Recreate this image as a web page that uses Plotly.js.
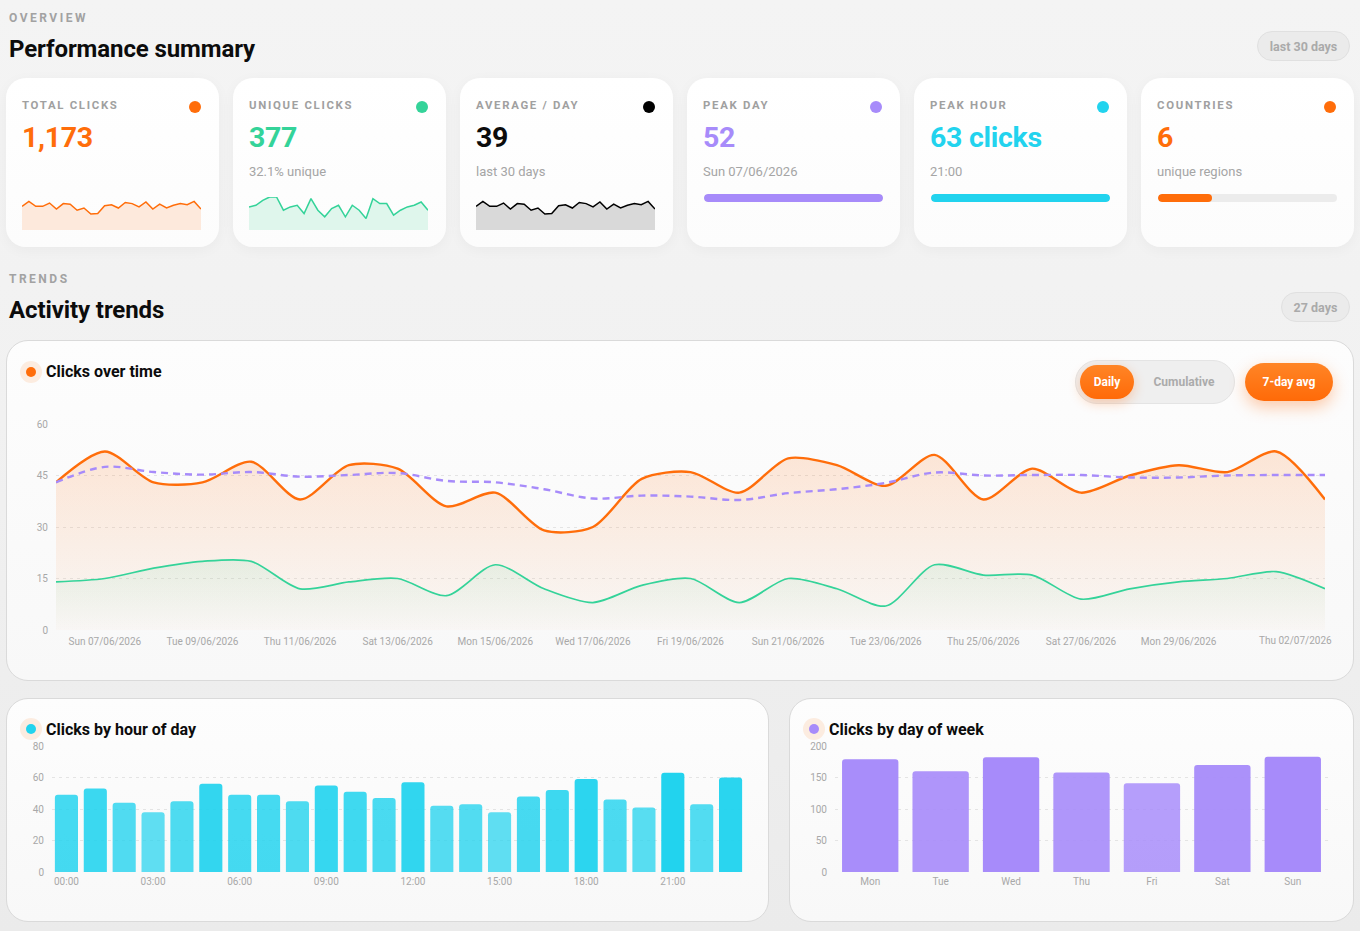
<!DOCTYPE html>
<html>
<head>
<meta charset="utf-8">
<script src="https://cdn.plot.ly/plotly-3.0.1.min.js"></script>
<style>
  html, body { margin: 0; padding: 0; }
  body {
    width: 1360px; height: 931px; overflow: hidden; position: relative;
    background: linear-gradient(180deg, #f4f4f4 0%, #f1f1f1 45%, #ebebeb 100%);
    font-family: Roboto, "Noto Sans", sans-serif;
  }
  .abs { position: absolute; }
  .eyebrow { font-size: 12px; font-weight: 700; letter-spacing: 2.5px; color: #a2a2a2; line-height: 1; }
  .h1 { font-size: 24px; font-weight: 700; color: #0c0c0c; line-height: 1; letter-spacing: -0.1px; }
  .pill {
    border-radius: 16px; background: #ebebeb; border: 1px solid #e0e0e0; color: #aaaaaa;
    font-size: 12.5px; font-weight: 700; display: flex; align-items: center; justify-content: center;
    box-sizing: border-box;
  }
  .card {
    background: linear-gradient(180deg, #ffffff 0%, #fcfcfc 100%);
    border-radius: 20px; box-shadow: 0 3px 14px rgba(0,0,0,0.04); box-sizing: border-box;
  }
  .kl { font-size: 11.4px; font-weight: 700; letter-spacing: 1.7px; color: #a0a0a0; line-height: 1; white-space: nowrap; }
  .kv { font-size: 28.5px; font-weight: 700; line-height: 1; white-space: nowrap; letter-spacing: -0.3px; }
  .ks { font-size: 13px; color: #a5a5a5; line-height: 1; white-space: nowrap; }
  .dot { width: 12px; height: 12px; border-radius: 50%; }
  .bar-track { height: 8px; border-radius: 4px; background: #ececec; overflow: hidden; }
  .bar-fill { height: 8px; border-radius: 4px; }
  .panel {
    background: linear-gradient(180deg, #fdfdfd 0%, #f8f8f8 100%);
    border: 1px solid #dadada; border-radius: 22px; box-sizing: border-box;
  }
  .ptitle { font-size: 16px; font-weight: 700; color: #0c0c0c; line-height: 1; white-space: nowrap; }
  .halo { width: 22px; height: 22px; border-radius: 50%; background: #fcece0; display: flex; align-items: center; justify-content: center; }
  .halo span { width: 10px; height: 10px; border-radius: 50%; display: block; }
  .seg {
    border-radius: 22px; background: #efefef; border: 1px solid #e4e4e4; box-sizing: border-box;
  }
  .btn {
    display: flex; align-items: center; justify-content: center; font-size: 12px; font-weight: 700;
    color: #ffffff; background: linear-gradient(180deg, #ff8526 0%, #ff6a08 100%);
  }
  .ghost { display: flex; align-items: center; justify-content: center; font-size: 12px; font-weight: 700; color: #ababab; }
</style>
</head>
<body>

<!-- Overview header -->
<div class="abs eyebrow" style="left:9px;top:12px;">OVERVIEW</div>
<div class="abs h1" style="left:9px;top:37px;">Performance summary</div>
<div class="abs pill" style="left:1257px;top:31px;width:93px;height:30px;">last 30 days</div>

<div id="kpis"></div>

<!-- Trends header -->
<div class="abs eyebrow" style="left:9px;top:273px;">TRENDS</div>
<div class="abs h1" style="left:9px;top:298px;">Activity trends</div>
<div class="abs pill" style="left:1281px;top:292px;width:69px;height:30px;">27 days</div>

<!-- Clicks over time panel -->
<div class="abs panel" style="left:6px;top:340px;width:1348px;height:341px;"></div>
<div class="abs halo" style="left:20px;top:361px;"><span style="background:#ff6d0a"></span></div>
<div class="abs ptitle" style="left:46px;top:364px;">Clicks over time</div>
<div class="abs seg" style="left:1075px;top:360px;width:160px;height:44px;"></div>
<div class="abs btn" style="left:1080px;top:365px;width:54px;height:34px;border-radius:17px;box-shadow:0 4px 12px rgba(255,110,15,0.30);">Daily</div>
<div class="abs ghost" style="left:1136px;top:365px;width:96px;height:34px;">Cumulative</div>
<div class="abs btn" style="left:1245px;top:363px;width:88px;height:38px;border-radius:19px;box-shadow:0 6px 16px rgba(255,110,15,0.35);">7-day avg</div>
<div id="trend" class="abs" style="left:6px;top:400px;width:1348px;height:270px;"></div>

<!-- Hour of day panel -->
<div class="abs panel" style="left:6px;top:698px;width:763px;height:224px;"></div>
<div class="abs halo" style="left:20px;top:718px;"><span style="background:#22d3ee"></span></div>
<div class="abs ptitle" style="left:46px;top:722px;">Clicks by hour of day</div>
<div id="hours" class="abs" style="left:6px;top:736px;width:763px;height:180px;"></div>

<!-- Day of week panel -->
<div class="abs panel" style="left:789px;top:698px;width:565px;height:224px;"></div>
<div class="abs halo" style="left:803px;top:718px;"><span style="background:#a78bfa"></span></div>
<div class="abs ptitle" style="left:829px;top:722px;">Clicks by day of week</div>
<div id="weekdays" class="abs" style="left:789px;top:736px;width:565px;height:180px;"></div>

<script>
// ---- data ----
const days = [
  '2026-06-06','2026-06-07','2026-06-08','2026-06-09','2026-06-10','2026-06-11','2026-06-12',
  '2026-06-13','2026-06-14','2026-06-15','2026-06-16','2026-06-17','2026-06-18','2026-06-19',
  '2026-06-20','2026-06-21','2026-06-22','2026-06-23','2026-06-24','2026-06-25','2026-06-26',
  '2026-06-27','2026-06-28','2026-06-29','2026-06-30','2026-07-01','2026-07-02'
];
const dailyClicks = [43,52,43,43,49,38,48,47,36,40,29,30,44,46,40,50,48,42,51,38,47,40,45,48,46,52,38];
const uniqueClicks = [14,15,18,20,20,12,14,15,10,19,12,8,13,15,8,15,12,7,19,16,16,9,12,14,15,17,12];
const avg7 = [43,47.5,46,45.25,46,44.67,45.14,45.71,43.43,43,41,38.29,39.14,38.86,37.86,39.86,41,42.86,45.86,45,45.14,45.14,44.43,44.43,45,45.14,45.14];

const hourLabels = ['00:00','01:00','02:00','03:00','04:00','05:00','06:00','07:00','08:00','09:00','10:00','11:00',
                    '12:00','13:00','14:00','15:00','16:00','17:00','18:00','19:00','20:00','21:00','22:00','23:00'];
const hourClicks = [49,53,44,38,45,56,49,49,45,55,51,47,57,42,43,38,48,52,59,46,41,63,43,60];

const weekdayLabels = ['Mon','Tue','Wed','Thu','Fri','Sat','Sun'];
const weekdayClicks = [179,160,182,158,141,170,183];

const countryCount = 6;
const countryScale = 20;
const periodDays = 30;

// ---- palette ----
const ORANGE = '#ff6d0a', GREEN = '#34d399', PURPLE = '#a78bfa', CYAN = '#22d3ee';
const TICK = {family: 'Roboto, sans-serif', size: 10, color: '#a8a8a8'};
const FONT = 'Roboto, sans-serif';

const wk = ['Sun','Mon','Tue','Wed','Thu','Fri','Sat'];
function fmtDay(iso) {
  const [y, m, d] = iso.split('-').map(Number);
  const dt = new Date(Date.UTC(y, m - 1, d));
  return wk[dt.getUTCDay()] + ' ' + String(d).padStart(2,'0') + '/' + String(m).padStart(2,'0') + '/' + y;
}

// ---- KPI cards ----
const total = dailyClicks.reduce((a, b) => a + b, 0);
const uniq = uniqueClicks.reduce((a, b) => a + b, 0);
const peakDay = Math.max(...dailyClicks);
const peakDayIdx = dailyClicks.indexOf(peakDay);
const peakHour = Math.max(...hourClicks);
const peakHourIdx = hourClicks.indexOf(peakHour);

const cards = [
  {label: 'TOTAL CLICKS', value: total.toLocaleString('en-US'), color: ORANGE, dot: ORANGE, spark: {y: dailyClicks, line: ORANGE, fill: '#fde9dc', max: 60}},
  {label: 'UNIQUE CLICKS', value: String(uniq), color: GREEN, dot: GREEN, sub: (uniq / total * 100).toFixed(1) + '% unique', spark: {y: uniqueClicks, line: GREEN, fill: '#dff6ec', max: 20}},
  {label: 'AVERAGE / DAY', value: String(Math.round(total / periodDays)), color: '#0c0c0c', dot: '#000000', sub: 'last ' + periodDays + ' days', spark: {y: dailyClicks, line: '#000000', fill: '#d9d9d9', max: 60}},
  {label: 'PEAK DAY', value: String(peakDay), color: PURPLE, dot: PURPLE, sub: fmtDay(days[peakDayIdx]), bar: {frac: peakDay / peakDay, color: PURPLE}},
  {label: 'PEAK HOUR', value: peakHour + ' clicks', color: CYAN, dot: CYAN, sub: hourLabels[peakHourIdx], bar: {frac: peakHour / peakHour, color: CYAN}},
  {label: 'COUNTRIES', value: String(countryCount), color: ORANGE, dot: ORANGE, sub: 'unique regions', bar: {frac: countryCount / countryScale, color: ORANGE}}
];
const cardLefts = [6, 233, 460, 687, 914, 1141];
const host = document.getElementById('kpis');
cards.forEach((c, i) => {
  const L = cardLefts[i];
  let html = `<div class="abs card" style="left:${L}px;top:78px;width:213px;height:169px;"></div>
    <div class="abs kl" style="left:${L + 16}px;top:100px;">${c.label}</div>
    <div class="abs dot" style="left:${L + 183}px;top:101px;background:${c.dot};"></div>
    <div class="abs kv" style="left:${L + 16}px;top:124px;color:${c.color};">${c.value}</div>`;
  if (c.sub) html += `<div class="abs ks" style="left:${L + 16}px;top:165px;">${c.sub}</div>`;
  if (c.bar) html += `<div class="abs bar-track" style="left:${L + 17}px;top:194px;width:179px;">
      <div class="bar-fill" style="width:${(c.bar.frac * 100).toFixed(1)}%;background:${c.bar.color};"></div></div>`;
  if (c.spark) html += `<div id="spark${i}" class="abs" style="left:${L + 16}px;top:197px;width:179px;height:33px;"></div>`;
  host.insertAdjacentHTML('beforeend', html);
});

const cfg = {staticPlot: true, displayModeBar: false, responsive: false};

cards.forEach((c, i) => {
  if (!c.spark) return;
  Plotly.newPlot('spark' + i, [{
    x: days, y: c.spark.y, type: 'scatter', mode: 'lines',
    line: {color: c.spark.line, width: 1.5, shape: 'linear'},
    fill: 'tozeroy', fillcolor: c.spark.fill
  }], {
    width: 179, height: 33, margin: {l: 0, r: 0, t: 0, b: 0},
    paper_bgcolor: 'rgba(0,0,0,0)', plot_bgcolor: 'rgba(0,0,0,0)',
    xaxis: {visible: false, range: [days[0], days[days.length - 1]]},
    yaxis: {visible: false, range: [0, c.spark.max]},
    showlegend: false
  }, cfg);
});

// ---- clicks over time ----
const tickIdx = [];
for (let i = 1; i <= 23; i += 2) tickIdx.push(i);
const lastIdx = days.length - 1;

Plotly.newPlot('trend', [
  {
    x: days, y: dailyClicks, type: 'scatter', mode: 'lines', name: 'Daily',
    line: {color: ORANGE, width: 2.4, shape: 'spline', smoothing: 0.8},
    fill: 'tozeroy',
    fillgradient: {type: 'vertical', colorscale: [[0, 'rgba(255,120,30,0.02)'], [1, 'rgba(255,120,30,0.17)']]}
  },
  {
    x: days, y: uniqueClicks, type: 'scatter', mode: 'lines', name: 'Unique',
    line: {color: GREEN, width: 1.7, shape: 'spline', smoothing: 0.8},
    fill: 'tozeroy',
    fillgradient: {type: 'vertical', colorscale: [[0, 'rgba(52,211,153,0.0)'], [1, 'rgba(52,211,153,0.10)']]}
  },
  {
    x: days, y: avg7, type: 'scatter', mode: 'lines', name: '7-day avg',
    line: {color: PURPLE, width: 2.4, dash: '7px,5px', shape: 'spline', smoothing: 1}
  }
], {
  width: 1348, height: 270, margin: {l: 50, r: 29, t: 24, b: 40},
  paper_bgcolor: 'rgba(0,0,0,0)', plot_bgcolor: 'rgba(0,0,0,0)',
  font: {family: FONT},
  showlegend: false,
  xaxis: {
    type: 'date', range: [days[0], days[lastIdx]],
    tickvals: tickIdx.map(i => days[i]), ticktext: tickIdx.map(i => fmtDay(days[i])),
    tickfont: TICK, showgrid: false, zeroline: false, showline: false, ticks: '',
    ticklabelstandoff: 4
  },
  yaxis: {
    range: [0, 60], tickvals: [0, 15, 30, 45, 60], tickfont: TICK,
    showgrid: true, gridcolor: '#e4e4e4', griddash: '3px,4px', gridwidth: 1,
    zeroline: false, showline: false, ticks: '', ticklabelstandoff: 7
  },
  annotations: [{
    x: days[lastIdx], y: 0, xref: 'x', yref: 'paper', yanchor: 'top', xanchor: 'right',
    xshift: 9, yshift: -3, text: fmtDay(days[lastIdx]), showarrow: false, font: TICK
  }]
}, cfg);

// ---- bar charts ----
// bar opacity rises with the value, so the busiest slots read strongest
function shade(vals, rgb, lo, hi) {
  const mn = Math.min(...vals), mx = Math.max(...vals);
  return vals.map(v => `rgba(${rgb},${(lo + (hi - lo) * (v - mn) / (mx - mn)).toFixed(3)})`);
}

Plotly.newPlot('hours', [{
  x: hourLabels, y: hourClicks, type: 'bar',
  marker: {color: shade(hourClicks, '34,211,238', 0.72, 1.0), cornerradius: 3}
}], {
  width: 763, height: 180, margin: {l: 46, r: 24, t: 10, b: 44},
  paper_bgcolor: 'rgba(0,0,0,0)', plot_bgcolor: 'rgba(0,0,0,0)',
  font: {family: FONT}, bargap: 0.2, showlegend: false,
  xaxis: {
    type: 'category', tickvals: hourLabels.filter((h, i) => i % 3 === 0), tickfont: TICK,
    showgrid: false, zeroline: false, showline: false, ticks: '', ticklabelstandoff: 2
  },
  yaxis: {
    range: [0, 80], dtick: 20, tickfont: TICK, showgrid: true, gridcolor: '#e4e4e4',
    griddash: '3px,4px', zeroline: false, showline: false, ticks: '', ticklabelstandoff: 7
  }
}, cfg);

Plotly.newPlot('weekdays', [{
  x: weekdayLabels, y: weekdayClicks, type: 'bar',
  marker: {color: shade(weekdayClicks, '167,139,250', 0.84, 1.0), cornerradius: 3}
}], {
  width: 565, height: 180, margin: {l: 46, r: 26, t: 10, b: 44},
  paper_bgcolor: 'rgba(0,0,0,0)', plot_bgcolor: 'rgba(0,0,0,0)',
  font: {family: FONT}, bargap: 0.2, showlegend: false,
  xaxis: {
    type: 'category', tickfont: TICK, showgrid: false, zeroline: false, showline: false,
    ticks: '', ticklabelstandoff: 2
  },
  yaxis: {
    range: [0, 200], dtick: 50, tickfont: TICK, showgrid: true, gridcolor: '#e4e4e4',
    griddash: '3px,4px', zeroline: false, showline: false, ticks: '', ticklabelstandoff: 7
  }
}, cfg);
</script>
</body>
</html>
